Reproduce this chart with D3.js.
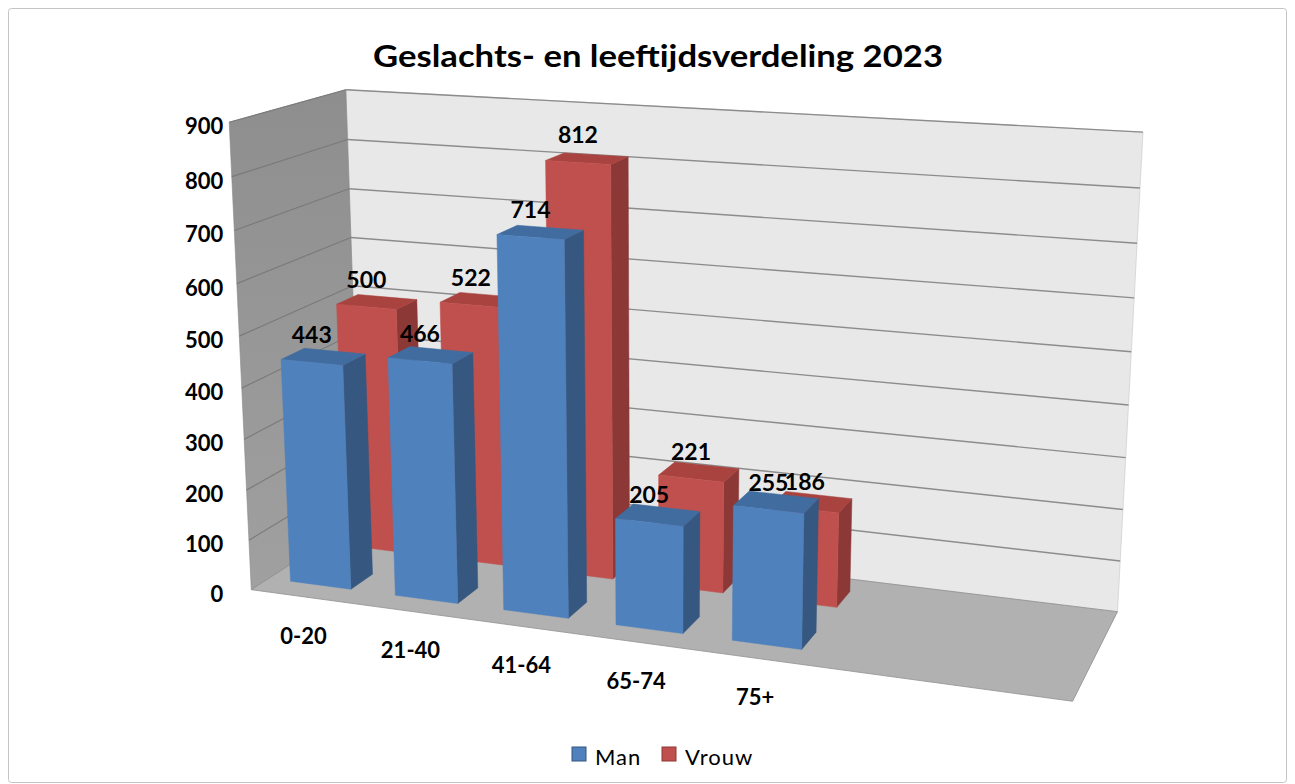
<!DOCTYPE html>
<html>
<head>
<meta charset="utf-8">
<script src="https://cdn.jsdelivr.net/npm/d3@7"></script>
<style>
body { margin: 0; background: #fff; }
svg { display: block; font-family: Lato, "Open Sans", sans-serif; }
</style>
</head>
<body>
<script>
"use strict";

// data (the source sheet had 7 rows, the last two empty)
var categories = ["0-20", "21-40", "41-64", "65-74", "75+", "", ""];
var seriesNames = ["Man", "Vrouw"];
var man = [443, 466, 714, 205, 255, null, null];
var vrouw = [500, 522, 812, 221, 186, null, null];
var yTicks = [0, 100, 200, 300, 400, 500, 600, 700, 800, 900];

var width = 1295, height = 784;
var colors = {
    Man: { front: "#4f81bd", side: "#36577f", top: "#416c9f" },
    Vrouw: { front: "#c0504d", side: "#8b3836", top: "#a8433f" }
};

// screen position of the corners of the 3d plot box: (u, v, w) in 0..1
var boxCorners = [
    [[0, 0, 0], [252, 592]],
    [[1, 0, 0], [1072, 700]],
    [[1, 0, 1], [1118, 613]],
    [[0, 0, 1], [360, 517]],
    [[0, 1, 0], [229, 121]],
    [[0, 1, 1], [346, 91]],
    [[1, 1, 1], [1143, 132]]
];

function solve(M, r) {
    var n = r.length, i, j, c;
    for (c = 0; c < n; c++) {
        var piv = c;
        for (i = c + 1; i < n; i++) if (Math.abs(M[i][c]) > Math.abs(M[piv][c])) piv = i;
        var t = M[c]; M[c] = M[piv]; M[piv] = t;
        t = r[c]; r[c] = r[piv]; r[piv] = t;
        for (i = c + 1; i < n; i++) {
            var f = M[i][c] / M[c][c];
            for (j = c; j < n; j++) M[i][j] -= f * M[c][j];
            r[i] -= f * r[c];
        }
    }
    var x = new Array(n);
    for (i = n - 1; i >= 0; i--) {
        var s = r[i];
        for (j = i + 1; j < n; j++) s -= M[i][j] * x[j];
        x[i] = s / M[i][i];
    }
    return x;
}

// least squares fit of a perspective (3x4) projection to the box corners
function fitProjection(pts) {
    var A = [], b = [];
    pts.forEach(function(p) {
        var u = p[0][0], v = p[0][1], w = p[0][2];
        var x = p[1][0] / 1000, y = p[1][1] / 1000;
        A.push([u, v, w, 1, 0, 0, 0, 0, -x * u, -x * v, -x * w]); b.push(x);
        A.push([0, 0, 0, 0, u, v, w, 1, -y * u, -y * v, -y * w]); b.push(y);
    });
    var M = [], r = [];
    for (var i = 0; i < 11; i++) {
        M.push([]);
        var s = 0;
        for (var j = 0; j < 11; j++) {
            var m = 0;
            for (var k = 0; k < A.length; k++) m += A[k][i] * A[k][j];
            M[i].push(m);
        }
        for (k = 0; k < A.length; k++) s += A[k][i] * b[k];
        r.push(s);
    }
    return solve(M, r);
}

var P = fitProjection(boxCorners);

function project(u, v, w) {
    var d = P[8] * u + P[9] * v + P[10] * w + 1;
    return [1000 * (P[0] * u + P[1] * v + P[2] * w + P[3]) / d,
            1000 * (P[4] * u + P[5] * v + P[6] * w + P[7]) / d];
}

var x = d3.scaleBand().domain(d3.range(categories.length)).range([0, 1])
    .paddingInner(0.42).paddingOuter(0.21);
var y = d3.scaleLinear().domain([0, 900]).range([0, 1]);
var z = d3.scaleBand().domain(seriesNames).range([0, 1])
    .paddingInner(0.6).paddingOuter(0.3);
var band = d3.scaleBand().domain(d3.range(categories.length)).range([0, 1]);

var line = d3.line();
function poly(pts) {
    return line(pts.map(function(p) { return project(p[0], p[1], p[2]); })) + "Z";
}

var svg = d3.select("body").append("svg")
    .attr("width", width)
    .attr("height", height);

var defs = svg.append("defs");
var grad = defs.append("linearGradient").attr("id", "sideWall")
    .attr("x1", 0).attr("y1", 0).attr("x2", 0).attr("y2", 1);
grad.append("stop").attr("offset", "0%").attr("stop-color", "#8e8e8e");
grad.append("stop").attr("offset", "100%").attr("stop-color", "#a0a0a0");

// chart border
svg.append("rect")
    .attr("x", 8.5).attr("y", 8.5)
    .attr("width", 1278).attr("height", 774)
    .attr("rx", 3)
    .attr("fill", "none")
    .attr("stroke", "#c4c4c4");

// title
svg.append("text")
    .attr("x", 658).attr("y", 67)
    .attr("text-anchor", "middle")
    .attr("font-size", 31)
    .attr("font-weight", "bold")
    .attr("textLength", 570)
    .attr("lengthAdjust", "spacingAndGlyphs")
    .text("Geslachts- en leeftijdsverdeling 2023");

// walls and floor
var walls = svg.append("g");
walls.append("path")
    .attr("d", poly([[0, 0, 1], [1, 0, 1], [1, 1, 1], [0, 1, 1]]))
    .attr("fill", "#e8e8e8").attr("stroke", "#d0d0d0").attr("stroke-width", 0.8);
walls.append("path")
    .attr("d", poly([[0, 0, 0], [0, 0, 1], [0, 1, 1], [0, 1, 0]]))
    .attr("fill", "url(#sideWall)").attr("stroke", "#888").attr("stroke-width", 0.6);

// gridlines
yTicks.forEach(function(t) {
    if (t === 0) return;
    var v = y(t);
    walls.append("path")
        .attr("d", line([project(0, v, 1), project(1, v, 1)]))
        .attr("stroke", "#8c8c8c").attr("stroke-width", 1.4).attr("fill", "none");
    walls.append("path")
        .attr("d", line([project(0, v, 0), project(0, v, 1)]))
        .attr("stroke", "#7a7a7a").attr("stroke-width", 1.2).attr("fill", "none");
});

walls.append("path")
    .attr("d", poly([[0, 0, 0], [1, 0, 0], [1, 0, 1], [0, 0, 1]]))
    .attr("fill", "#b1b1b1").attr("stroke", "#8f8f8f").attr("stroke-width", 0.8);

// y axis labels
var labelX = Math.min(project(0, 0, 0)[0], project(0, 1, 0)[0]) - 6;
svg.append("g").selectAll("text")
    .data(yTicks)
    .enter().append("text")
    .attr("x", labelX)
    .attr("y", function(d) { return project(0, y(d), 0)[1] + 12; })
    .attr("text-anchor", "end")
    .attr("font-size", 22)
    .attr("font-weight", "bold")
    .text(function(d) { return d; });

// bars, back row first, then left to right
var series = [
    { name: "Vrouw", values: vrouw },
    { name: "Man", values: man }
];
var bars = svg.append("g");
var labels = [];
series.forEach(function(s) {
    var w0 = z(s.name), w1 = w0 + z.bandwidth();
    s.values.forEach(function(val, i) {
        if (val == null) return;
        var u0 = x(i), u1 = u0 + x.bandwidth(), v1 = y(val);
        var c = colors[s.name];
        var g = bars.append("g");
        g.append("path")
            .attr("d", poly([[u1, 0, w0], [u1, 0, w1], [u1, v1, w1], [u1, v1, w0]]))
            .attr("fill", c.side).attr("stroke", c.side).attr("stroke-width", 0.5);
        g.append("path")
            .attr("d", poly([[u0, v1, w0], [u1, v1, w0], [u1, v1, w1], [u0, v1, w1]]))
            .attr("fill", c.top).attr("stroke", c.top).attr("stroke-width", 0.5);
        g.append("path")
            .attr("d", poly([[u0, 0, w0], [u1, 0, w0], [u1, v1, w0], [u0, v1, w0]]))
            .attr("fill", c.front).attr("stroke", c.front).attr("stroke-width", 0.5);
        var p = project((u0 + u1) / 2, v1, w0);
        labels.push({ x: p[0], y: p[1], text: val });
    });
});

// data labels on top of everything
svg.append("g").selectAll("text")
    .data(labels)
    .enter().append("text")
    .attr("x", function(d) { return d.x; })
    .attr("y", function(d) { return d.y - 19; })
    .attr("text-anchor", "middle")
    .attr("font-size", 23)
    .attr("font-weight", "bold")
    .text(function(d) { return d.text; });

// category labels
svg.append("g").selectAll("text")
    .data(categories)
    .enter().append("text")
    .attr("x", function(d, i) { return project(band(i) + band.bandwidth() / 2, 0, 0)[0]; })
    .attr("y", function(d, i) { return project(band(i) + band.bandwidth() / 2, 0, 0)[1] + 47; })
    .attr("text-anchor", "middle")
    .attr("font-size", 22)
    .attr("font-weight", "bold")
    .text(function(d) { return d; });

// legend
var legend = svg.append("g").attr("transform", "translate(572,747)");
var items = legend.selectAll("g")
    .data(seriesNames)
    .enter().append("g")
    .attr("transform", function(d, i) { return "translate(" + (i * 90) + ",0)"; });
items.append("rect")
    .attr("width", 14).attr("height", 14)
    .attr("fill", function(d) { return colors[d].front; })
    .attr("stroke", function(d) { return colors[d].side; });
items.append("text")
    .attr("x", 23).attr("y", 18)
    .attr("font-size", 22)
    .attr("letter-spacing", 1)
    .text(function(d) { return d; });
</script>
</body>
</html>
